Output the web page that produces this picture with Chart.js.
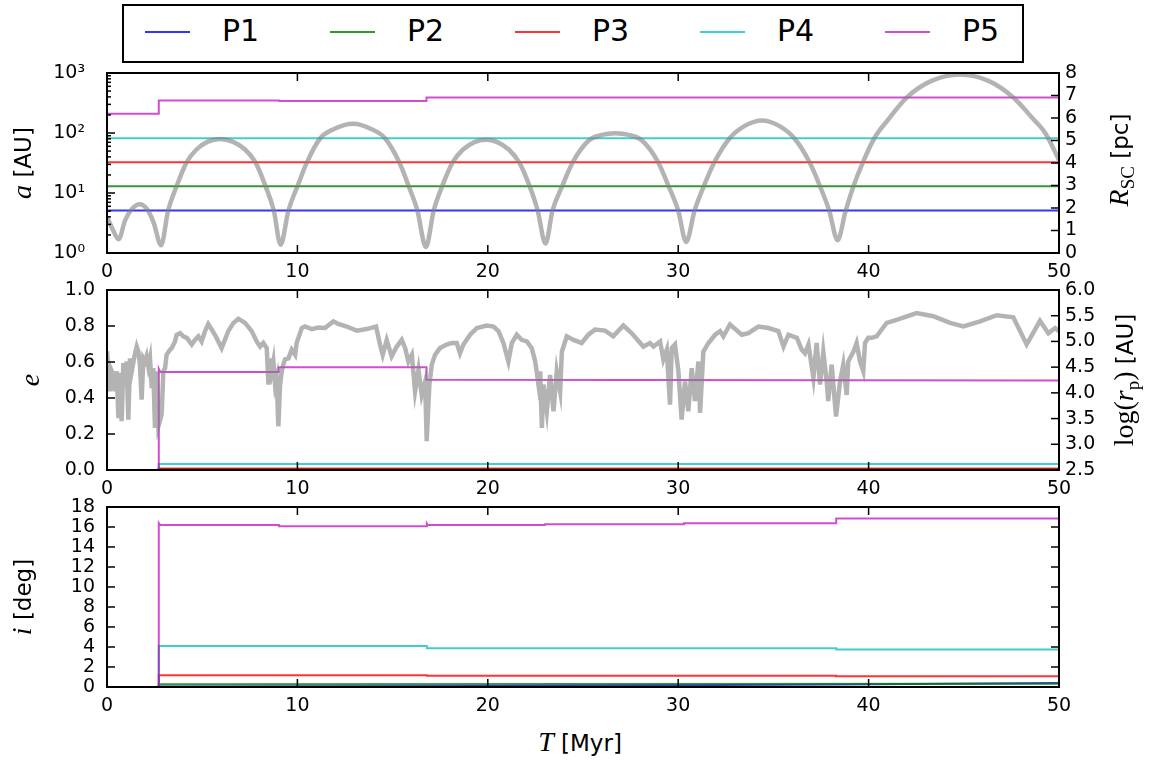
<!DOCTYPE html>
<html>
<head>
<meta charset="utf-8">
<script src="https://cdn.jsdelivr.net/npm/chart.js@4.4.1/dist/chart.umd.min.js"></script>
<style>
  body { margin: 0; background: #fff; }
  #wrap { position: relative; width: 1150px; height: 760px; font-family: 'DejaVu Sans'; }
  canvas { position: absolute; left: 0; }
  .lab { position: absolute; white-space: nowrap; font: 23px 'DejaVu Sans'; color: #000; transform: translate(-50%, -50%); }
  .rot { transform: translate(-50%, -50%) rotate(-90deg); }
  .m { font-family: 'Liberation Serif'; font-size: 28px; }
  .mi { font-family: 'Liberation Serif'; font-style: italic; font-size: 28px; }
  .sub { font-family: 'Liberation Serif'; font-size: 19px; vertical-align: -6px; }
  #legend { position: absolute; left: 122px; top: 4px; width: 898px; height: 55px; border: 2px solid #000; }
  .item { position: absolute; top: 0; height: 55px; }
  .item span.ln { position: absolute; top: 25px; width: 45px; height: 2px; }
  .item span.tx { position: absolute; left: 77px; top: 7px; font: 30px 'DejaVu Sans'; }
</style>
</head>
<body>
<div id="wrap">
  <div id="legend"></div>
  <canvas id="c1" width="1150" height="235" style="top:55px"></canvas>
  <canvas id="c2" width="1150" height="235" style="top:272px"></canvas>
  <canvas id="c3" width="1150" height="235" style="top:489px"></canvas>

  <div class="lab rot" style="left:22px;top:163px"><span class="mi">a</span> [AU]</div>
  <div class="lab rot" style="left:30px;top:380px"><span class="mi">e</span></div>
  <div class="lab rot" style="left:22px;top:597px"><span class="mi">i</span> [deg]</div>
  <div class="lab rot" style="left:1121px;top:160px"><span class="mi">R</span><span class="sub">SC</span> [pc]</div>
  <div class="lab rot" style="left:1126px;top:380px"><span class="m">log(</span><span class="mi">r</span><span class="sub">p</span><span class="m">)</span> [AU]</div>
  <div class="lab" style="left:580px;top:742px"><span class="mi">T</span> [Myr]</div>
</div>
<script>
// ---- data ----
const names = ['P1', 'P2', 'P3', 'P4', 'P5'];
const colors = ['rgba(0,0,255,0.8)', 'rgba(0,128,0,0.8)', 'rgba(255,0,0,0.8)',
                'rgba(0,191,191,0.75)', 'rgba(191,0,191,0.7)'];
const xTicks = [0, 10, 20, 30, 40, 50];

// semi-major axis a [AU]
const aTimeP1 = [0, 50];   const aP1 = [5.1, 5.1];
const aTimeP2 = [0, 50];   const aP2 = [12.9, 12.9];
const aTimeP3 = [0, 50];   const aP3 = [32.4, 32.4];
const aTimeP4 = [0, 50];   const aP4 = [81.8, 81.8];
const aTimeP5 = [0, 2.72, 2.72, 9.05, 9.05, 16.78, 16.78, 50];
const aP5 = [209, 209, 349, 349, 341, 341, 392, 392];

// distance of the star cluster orbit R_SC [pc]
const rscTime = [0, 0.3, 0.61, 0.95, 1.3, 1.72, 2.1, 2.45, 2.84,
  3.21, 3.65, 4.18, 4.7, 5.3, 5.95, 6.6, 7.25, 7.8, 8.33, 8.76, 9.12,
  9.53, 10.0, 10.5, 11.2, 11.9, 12.93, 13.9, 14.6, 15.35, 15.85, 16.3, 16.75,
  17.16, 17.6, 18.15, 18.7, 19.3, 19.9, 20.5, 21.1, 21.65, 22.2, 22.62, 23.03,
  23.4, 23.9, 24.46, 25.3, 26.0, 26.7, 27.4, 28.1, 28.95, 29.5, 30.0, 30.42,
  30.86, 31.34, 31.9, 32.7, 33.5, 34.4, 35.3, 36.1, 36.9, 37.45, 37.93, 38.37,
  38.8, 39.2, 39.7, 40.3, 41.0, 42.0, 43.3, 44.8, 46.3, 47.6, 48.6, 49.3, 50];
const rscVal = [1.6, 1.05, 0.61, 1.45, 1.95, 2.17, 1.95, 1.35, 0.34,
  1.89, 2.96, 4.03, 4.6, 4.95, 5.07, 4.95, 4.6, 4.03, 2.96, 1.89, 0.37,
  1.89, 2.96, 4.03, 5.1, 5.5, 5.74, 5.5, 5.1, 4.03, 2.96, 1.89, 0.27,
  1.89, 2.96, 4.03, 4.6, 4.93, 5.03, 4.93, 4.6, 4.03, 2.96, 1.89, 0.42,
  1.89, 2.96, 4.03, 5.0, 5.25, 5.32, 5.25, 5.0, 4.03, 2.96, 1.89, 0.49,
  1.89, 2.96, 4.03, 5.1, 5.65, 5.89, 5.65, 5.1, 4.03, 2.96, 1.89, 0.57,
  1.89, 2.96, 4.03, 5.1, 5.9, 6.91, 7.65, 7.93, 7.65, 6.91, 6.0, 5.3, 4.13];

// eccentricity e
const eTimeP1 = [0, 2.72, 2.72, 50];  const eP1 = [0, 0, 0.004, 0.004];
const eTimeP2 = [0, 2.72, 2.72, 50];  const eP2 = [0, 0, 0.006, 0.006];
const eTimeP3 = [0, 2.72, 2.72, 50];  const eP3 = [0, 0, 0.008, 0.008];
const eTimeP4 = [0, 2.72, 2.72, 50];  const eP4 = [0, 0, 0.033, 0.033];
const eTimeP5 = [0, 2.72, 2.72, 2.8, 9.02, 9.02, 16.78, 16.78, 50];
const eP5 = [0, 0, 0.563, 0.544, 0.544, 0.571, 0.571, 0.502, 0.497];

// pericentre of the cluster orbit log(r_p) [AU]
const rpTime = [0, 0.16, 0.25, 0.33, 0.42, 0.51, 0.6, 0.68, 0.77, 0.86, 0.95, 1.03, 1.12, 1.21, 1.3,
  1.44, 1.56, 1.65, 1.73, 1.82, 1.91, 2.0, 2.08, 2.17, 2.26, 2.35, 2.43, 2.52, 2.61, 2.7,
  2.87, 2.96, 3.05, 3.13, 3.31, 3.4, 3.57, 3.66, 3.84, 4.01, 4.19, 4.45, 4.62, 4.8, 4.97,
  5.15, 5.32, 5.67, 6.02, 6.37, 6.64, 6.9, 7.25, 7.6, 7.86, 8.04, 8.21, 8.39, 8.48, 8.56,
  8.65, 8.74, 8.83, 8.91, 9.0, 9.09, 9.18, 9.26, 9.35, 9.53, 9.7, 9.88, 9.96, 10.23, 10.4,
  10.75, 11.1, 11.45, 11.89, 12.15, 12.59, 13.12, 13.64, 14.13, 14.34, 14.48, 14.69, 14.95,
  15.22, 15.48, 15.66, 15.83, 16.01, 16.18, 16.36, 16.53, 16.71, 16.79, 16.93, 17.06, 17.23,
  17.49, 17.84, 18.11, 18.37, 18.54, 18.72, 19.07, 19.42, 19.95, 20.3, 20.56, 20.82, 21.08,
  21.26, 21.52, 21.78, 22.05, 22.31, 22.49, 22.66, 22.75, 22.84, 22.92, 23.1, 23.27, 23.45,
  23.62, 23.8, 23.89, 24.15, 24.5, 24.93, 25.28, 25.63, 26.16, 26.59, 27.12, 27.56, 28.17,
  28.52, 28.7, 29.05, 29.22, 29.4, 29.57, 29.66, 29.83, 30.01, 30.18, 30.36, 30.53, 30.71,
  30.88, 31.06, 31.15, 31.32, 31.59, 31.94, 32.2, 32.37, 32.72, 33.34, 33.69, 34.21, 34.74,
  35.26, 35.53, 35.79, 36.23, 36.49, 36.66, 36.84, 37.1, 37.27, 37.45, 37.62, 37.8, 37.88,
  38.06, 38.29, 38.5, 38.67, 38.85, 38.93, 39.2, 39.37, 39.55, 39.72, 39.81, 39.98, 40.16,
  40.42, 40.95, 41.47, 42.52, 43.4, 44.28, 44.98, 45.85, 46.73, 47.6, 48.3, 49.0, 49.44,
  49.79, 50];
const rpVal = [4.81, 4.03, 4.42, 4.35, 4.03, 4.42, 3.51, 4.39, 3.45, 4.58, 4.16, 4.61, 3.48, 4.67, 4.42,
  4.71, 4.9, 4.8, 4.55, 3.87, 4.67, 4.61, 4.71, 4.51, 4.67, 4.09, 4.48, 3.32, 4.42, 3.35,
  3.58, 4.42, 4.48, 4.74, 4.84, 4.87, 5.0, 5.13, 5.16, 5.1, 5.07, 4.94, 5.03, 5.1, 5.0,
  5.2, 5.34, 5.13, 4.87, 5.2, 5.36, 5.44, 5.36, 5.2, 5.0, 4.9, 4.97, 4.87, 4.16, 4.67,
  4.42, 4.61, 4.16, 4.29, 3.35, 4.16, 4.42, 4.55, 4.65, 4.67, 4.84, 4.74, 4.97, 5.26, 5.29,
  5.24, 5.27, 5.26, 5.39, 5.34, 5.29, 5.21, 5.24, 5.29, 4.94, 4.74, 5.03, 4.71,
  4.9, 5.03, 4.87, 4.61, 4.74, 4.03, 4.45, 3.96, 4.22, 3.06, 4.16, 4.55, 4.74,
  4.87, 4.94, 4.97, 4.97, 4.77, 4.94, 5.13, 5.26, 5.31, 5.29, 5.2, 4.97, 4.61,
  4.97, 5.13, 5.03, 5.0, 4.87, 4.61, 4.16, 4.42, 3.32, 4.16, 3.64, 4.35, 3.64,
  4.42, 4.03, 4.8, 5.1, 5.03, 4.97, 5.13, 5.23, 5.21, 5.1, 5.31, 5.16, 4.9,
  4.97, 4.9, 5.0, 4.65, 4.84, 3.77, 4.87, 4.94, 4.42, 3.48, 4.22, 3.64, 4.48,
  3.84, 4.61, 3.61, 4.8, 4.97, 5.13, 5.2, 5.1, 5.33, 5.13, 5.16, 5.29, 5.26,
  5.2, 4.9, 5.13, 5.07, 4.84, 4.77, 4.94, 4.29, 4.97, 4.16, 4.8, 4.22, 3.84,
  4.55, 3.54, 4.22, 4.55, 3.96, 4.61, 4.8, 4.97, 4.61, 4.42, 4.97, 5.07, 5.07,
  5.1, 5.36, 5.42, 5.55, 5.49, 5.36, 5.29, 5.39, 5.51, 5.47, 4.94, 5.4, 5.16,
  5.26, 5.2];

// inclination i [deg]
const iTimeP1 = [0, 2.72, 2.72, 20, 38.3, 50];  const iP1 = [0, 0, 0.05, 0.1, 0.25, 0.4];
const iTimeP2 = [0, 2.72, 2.72, 50];            const iP2 = [0, 0, 0.27, 0.33];
const iTimeP3 = [0, 2.72, 2.72, 16.8, 16.8, 38.3, 38.3, 50];
const iP3 = [0, 0, 1.17, 1.17, 1.12, 1.12, 1.07, 1.07];
const iTimeP4 = [0, 2.72, 2.72, 16.8, 16.8, 38.3, 38.3, 50];
const iP4 = [0, 0, 4.1, 4.1, 3.87, 3.87, 3.75, 3.75];
const iTimeP5 = [0, 2.72, 2.72, 2.8, 9.03, 9.03, 16.78, 16.8, 16.85, 23, 23, 30.3, 30.3, 38.3, 38.3, 50];
const iP5 = [0, 0, 16.4, 16.2, 16.2, 16.07, 16.07, 16.35, 16.2, 16.2, 16.27, 16.27, 16.37, 16.37, 16.85, 16.85];

// ---- helpers ----
Chart.defaults.font.family = 'DejaVu Sans';
Chart.defaults.font.size = 19;
Chart.defaults.color = '#000';

function pts(xs, ys) { return xs.map((x, i) => ({x: x, y: ys[i]})); }

function planetSets(times, vals) {
  return names.map((n, k) => ({
    label: n, data: pts(times[k], vals[k]), borderColor: colors[k],
    borderWidth: 2, pointRadius: 0, tension: 0, order: 5 - k, yAxisID: 'y'
  }));
}

function graySet(xs, ys, smooth) {
  return {
    label: 'cluster', data: pts(xs, ys), borderColor: 'rgba(128,128,128,0.6)',
    borderWidth: 4.5, pointRadius: 0, order: -1, yAxisID: 'y2',
    cubicInterpolationMode: smooth ? 'monotone' : 'default', tension: 0
  };
}

// inward tick marks on all four sides plus the black frame
const frameTicks = {
  id: 'frameTicks',
  afterDatasetsDraw(chart) {
    const ctx = chart.ctx, a = chart.chartArea, s = chart.scales;
    ctx.save();
    ctx.strokeStyle = '#000';
    ctx.lineWidth = 1.5;
    const tick = (x1, y1, x2, y2) => { ctx.beginPath(); ctx.moveTo(x1, y1); ctx.lineTo(x2, y2); ctx.stroke(); };
    s.x.ticks.forEach(t => {
      const px = s.x.getPixelForValue(t.value);
      tick(px, a.bottom, px, a.bottom - 8);
      tick(px, a.top, px, a.top + 8);
    });
    s.y.ticks.forEach(t => {
      const py = s.y.getPixelForValue(t.value);
      tick(a.left, py, a.left + 8, py);
      if (!s.y2) tick(a.right, py, a.right - 8, py);
    });
    if (s.y.type === 'logarithmic') {
      [1, 10, 100].forEach(d => {
        for (let m = 2; m < 10; m++) {
          const py = s.y.getPixelForValue(m * d);
          tick(a.left, py, a.left + 4, py);
        }
      });
    }
    if (s.y2) {
      s.y2.ticks.forEach(t => {
        const py = s.y2.getPixelForValue(t.value);
        tick(a.right, py, a.right - 8, py);
      });
    }
    ctx.lineWidth = 2;
    ctx.strokeRect(a.left, a.top, a.right - a.left, a.bottom - a.top);
    ctx.restore();
  }
};

function xScale() {
  return {
    type: 'linear', min: 0, max: 50,
    grid: {display: false, drawTicks: false}, border: {display: false},
    afterBuildTicks: sc => { sc.ticks = xTicks.map(v => ({value: v})); },
    ticks: {padding: 8, autoSkip: false, maxRotation: 0},
    afterFit: sc => { sc.height = 37; }
  };
}

// fixed axis widths, and no extra label padding so every plot area lines up
function leftScale(opts) {
  return Object.assign({
    position: 'left',
    grid: {display: false, drawTicks: false}, border: {display: false},
    afterFit: sc => { sc.width = 107; sc.paddingTop = 0; sc.paddingBottom = 0; }
  }, opts);
}

function rightScale(opts) {
  return Object.assign({
    position: 'right',
    grid: {display: false, drawTicks: false}, border: {display: false},
    afterFit: sc => { sc.width = 91; sc.paddingTop = 0; sc.paddingBottom = 0; }
  }, opts);
}

function makeChart(id, datasets, scales, padRight) {
  return new Chart(document.getElementById(id), {
    type: 'line',
    data: {datasets: datasets},
    options: {
      responsive: false, animation: false, devicePixelRatio: 1,
      layout: {padding: {top: 18, left: 0, right: padRight, bottom: 0}},
      plugins: {legend: {display: false}, tooltip: {enabled: false}},
      scales: scales
    },
    plugins: [frameTicks]
  });
}

// ---- panel 1: a and R_SC ----
const supers = {1: '10\u2070', 10: '10\u00b9', 100: '10\u00b2', 1000: '10\u00b3'};
makeChart('c1',
  [graySet(rscTime, rscVal, true)].concat(planetSets(
    [aTimeP1, aTimeP2, aTimeP3, aTimeP4, aTimeP5], [aP1, aP2, aP3, aP4, aP5])),
  {
    x: xScale(),
    y: leftScale({
      type: 'logarithmic', min: 1, max: 1000,
      afterBuildTicks: sc => { sc.ticks = [1, 10, 100, 1000].map(v => ({value: v})); },
      ticks: {padding: 22, autoSkip: false, callback: v => supers[v] || ''}
    }),
    y2: rightScale({
      type: 'linear', min: 0, max: 8,
      ticks: {stepSize: 1, padding: 6, autoSkip: false}
    })
  }, 0);

// ---- panel 2: e and log(r_p) ----
makeChart('c2',
  [graySet(rpTime, rpVal, false)].concat(planetSets(
    [eTimeP1, eTimeP2, eTimeP3, eTimeP4, eTimeP5], [eP1, eP2, eP3, eP4, eP5])),
  {
    x: xScale(),
    y: leftScale({
      type: 'linear', min: 0, max: 1,
      ticks: {stepSize: 0.2, padding: 12, autoSkip: false, callback: v => v.toFixed(1)}
    }),
    y2: rightScale({
      type: 'linear', min: 2.5, max: 6,
      ticks: {stepSize: 0.5, padding: 6, autoSkip: false, callback: v => v.toFixed(1)}
    })
  }, 0);

// ---- panel 3: i ----
makeChart('c3',
  planetSets([iTimeP1, iTimeP2, iTimeP3, iTimeP4, iTimeP5], [iP1, iP2, iP3, iP4, iP5]),
  {
    x: xScale(),
    y: leftScale({
      type: 'linear', min: 0, max: 18,
      ticks: {stepSize: 2, padding: 12, autoSkip: false}
    })
  }, 91);

// ---- legend box ----
const legend = document.getElementById('legend');
names.forEach((n, k) => {
  const it = document.createElement('div');
  it.className = 'item';
  it.style.left = (21 + k * 185) + 'px';
  it.innerHTML = '<span class="ln" style="background:' + colors[k] + '"></span><span class="tx">' + n + '</span>';
  legend.appendChild(it);
});
</script>
</body>
</html>
